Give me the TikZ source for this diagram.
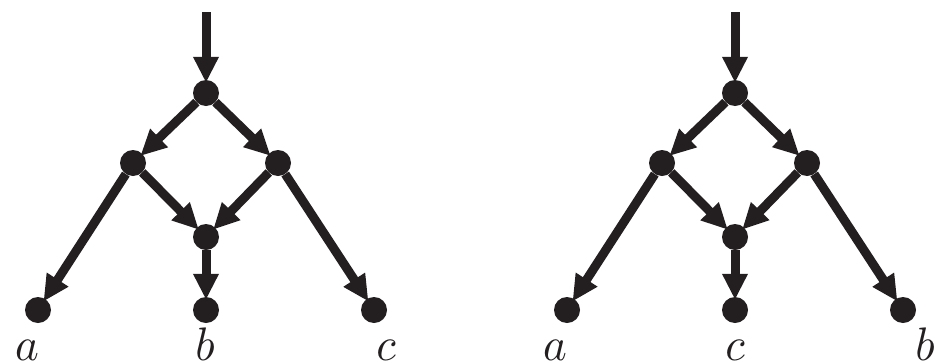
\documentclass[tikz,border=0pt]{standalone}
\usetikzlibrary{arrows.meta}
\definecolor{ink}{HTML}{231F20}
\tikzset{
  vtx/.style={circle,fill=ink,inner sep=0pt,minimum size=26pt},
  edge/.style={draw=ink,line width=9pt,-{Triangle[length=26pt,width=24pt]},shorten >=-3pt},
  lbl/.style={anchor=base,inner sep=0pt,text=ink,xscale=4.5,yscale=4.7}
}
\begin{document}
\begin{tikzpicture}[x=1pt,y=-1pt]
\useasboundingbox (0,0) rectangle (940,362);
% left graph
\coordinate (t1) at (206,12);
\node[vtx] (r1) at (206,93) {};
\node[vtx] (l1) at (133,163) {};
\node[vtx] (q1) at (278,163) {};
\node[vtx] (m1) at (206,237) {};
\node[vtx] (a1) at (38,310) {};
\node[vtx] (b1) at (206,310) {};
\node[vtx] (c1) at (374,310) {};
\draw[edge] (t1) -- (r1);
\draw[edge] (r1) -- (l1);
\draw[edge] (r1) -- (q1);
\draw[edge] (l1) -- (m1);
\draw[edge] (q1) -- (m1);
\draw[edge] (l1) -- (a1);
\draw[edge] (m1) -- (b1);
\draw[edge] (q1) -- (c1);
\node[lbl] (la1) at (27,360) {$a$};
\node[lbl] (lb1) at (205,360) {$b$};
\node[lbl] (lc1) at (386,360) {$c$};
% right graph
\coordinate (t2) at (735,12);
\node[vtx] (r2) at (735,93) {};
\node[vtx] (l2) at (662,163) {};
\node[vtx] (q2) at (807,163) {};
\node[vtx] (m2) at (735,237) {};
\node[vtx] (a2) at (567,310) {};
\node[vtx] (c2) at (735,310) {};
\node[vtx] (b2) at (903,310) {};
\draw[edge] (t2) -- (r2);
\draw[edge] (r2) -- (l2);
\draw[edge] (r2) -- (q2);
\draw[edge] (l2) -- (m2);
\draw[edge] (q2) -- (m2);
\draw[edge] (l2) -- (a2);
\draw[edge] (m2) -- (c2);
\draw[edge] (q2) -- (b2);
\node[lbl] (la2) at (555,360) {$a$};
\node[lbl] (lc2) at (735,360) {$c$};
\node[lbl] (lb2) at (925,360) {$b$};
\end{tikzpicture}
\end{document}
